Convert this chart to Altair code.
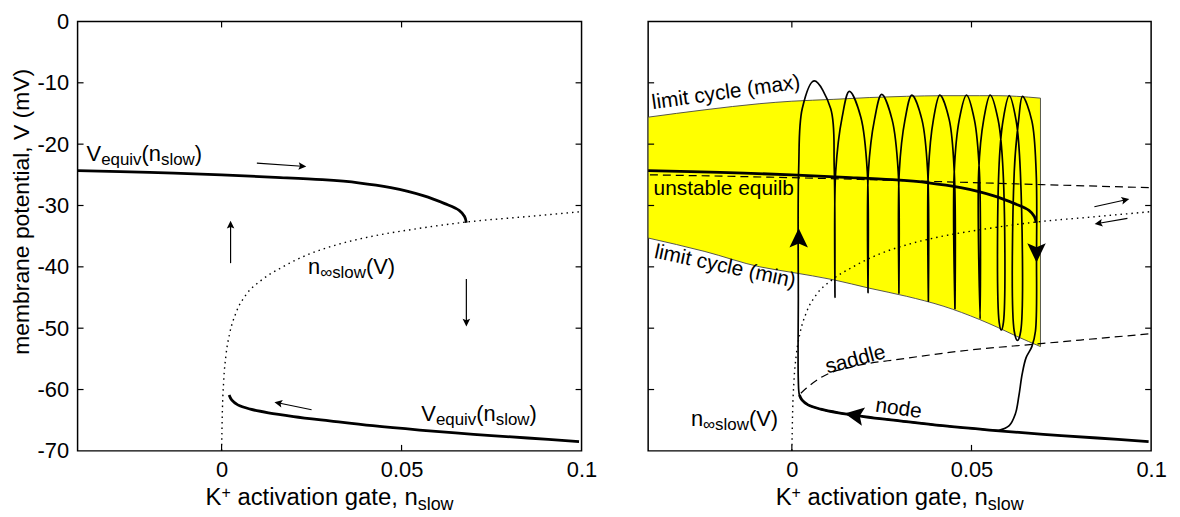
import math
import altair as alt
import pandas as pd

FONT = "Liberation Sans"
WL, WR, H = 507, 506, 432
XDOM = [-0.04, 0.1]
YDOM = [-70, 0]

# ---------------- data ----------------
X_TICKS = [0, 0.05, 0.1]
Y_TICKS = [0, -10, -20, -30, -40, -50, -60, -70]

# upper equilibrium branch V_equiv(n_slow)
up_x = [-0.040, -0.020, 0.000, 0.015, 0.028, 0.038, 0.047, 0.056, 0.062, 0.066, 0.0675, 0.0680]
up_v = [-24.3, -24.6, -25.0, -25.4, -25.8, -26.3, -27.1, -28.4, -29.7, -30.8, -31.8, -32.8]

# lower (node) equilibrium branch
lo_x = [0.0021, 0.0028, 0.0045, 0.0080, 0.0130, 0.0200, 0.0300, 0.0420, 0.0550, 0.0700, 0.0850, 0.0993]
lo_v = [-60.9, -61.7, -62.5, -63.2, -63.8, -64.4, -65.1, -65.9, -66.6, -67.3, -67.9, -68.5]

# n_inf_slow(V) nullcline (dotted)
ninf_x = [0.0, 0.0002, 0.0006, 0.0012, 0.0022, 0.0040, 0.0070, 0.0110, 0.0170, 0.0240,
          0.0320, 0.0420, 0.0530, 0.0680, 0.0850, 0.1000]
ninf_v = [-70.0, -64.0, -58.5, -54.5, -51.0, -47.5, -44.4, -42.2, -40.0, -38.0,
          -36.4, -35.0, -33.9, -32.7, -31.8, -31.0]

# limit cycle envelope (yellow band)
lc_x = [-0.040, -0.0242, -0.0089, 0.0, 0.0115, 0.0217, 0.0319, 0.0421, 0.0523, 0.0574, 0.0625, 0.0692]
lc_max = [-15.6, -14.4, -13.4, -13.0, -12.7, -12.4, -12.2, -12.1, -12.1, -12.1, -12.2, -12.5]
lc_min = [-35.3, -37.5, -40.0, -40.9, -42.1, -43.5, -44.8, -46.4, -48.6, -49.9, -51.3, -53.0]

# unstable equilibrium (dashed)
ue_x = [-0.0395, 0.0027, 0.0284, 0.0697, 0.1000]
ue_v = [-25.0, -25.5, -25.9, -26.6, -27.1]

# saddle (dashed)
sa_x = [0.0025, 0.0040, 0.0085, 0.0168, 0.0307, 0.0490, 0.0677, 0.1000]
sa_v = [-60.6, -59.8, -57.9, -56.3, -55.0, -53.6, -52.6, -50.9]

# bursting trajectory (right panel)
tr_x = [0.0575, 0.0550, 0.0420, 0.0300, 0.0200, 0.0130, 0.0080, 0.0045, 0.0028, 0.0021, 0.0018,
        0.0018, 0.0019,
        0.0029, 0.0062, 0.0108, 0.0118, 0.0120,
        0.0122, 0.0140, 0.0160, 0.0192, 0.0210, 0.0212,
        0.0213, 0.0230, 0.0250, 0.0279, 0.0296, 0.0298,
        0.0299, 0.0315, 0.0334, 0.0362, 0.0378, 0.0380,
        0.0380, 0.0394, 0.0412, 0.0438, 0.0452, 0.0454,
        0.0452, 0.0466, 0.0486, 0.0508, 0.0522, 0.0524,
        0.0520, 0.0534, 0.0552, 0.0574, 0.0588, 0.0589, 0.0583, 0.0577,
        0.0576, 0.0588, 0.0605, 0.0624, 0.0636, 0.0637, 0.0628, 0.0619,
        0.0619, 0.0631, 0.0642, 0.0668, 0.0680, 0.0681, 0.0678, 0.0668, 0.0652, 0.0641, 0.0632,
        0.0622, 0.0605, 0.0575]
tr_v = [-66.7, -66.6, -65.9, -65.1, -64.4, -63.8, -63.2, -62.5, -61.7, -60.9, -58.5,
        -45.0, -24.0,
        -14.2, -9.7, -14.2, -24.0, -45.0,
        -24.5, -15.6, -11.4, -15.6, -24.5, -44.2,
        -24.5, -16.0, -11.9, -16.0, -24.5, -44.3,
        -24.5, -16.0, -12.0, -16.0, -24.5, -45.6,
        -24.5, -16.0, -12.0, -16.0, -24.5, -46.9,
        -24.5, -16.0, -12.0, -16.0, -24.5, -48.5,
        -24.5, -16.0, -12.0, -16.0, -24.5, -49.0, -50.3, -49.0,
        -24.5, -16.1, -12.1, -16.1, -24.5, -50.5, -52.0, -50.5,
        -24.5, -16.2, -12.2, -16.2, -24.5, -38.0, -50.5, -53.0, -54.8, -57.5, -61.0,
        -64.0, -65.9, -66.7]

# small arrows: start -> end
arrL_x1 = [0.0098, 0.0025, 0.0680, 0.0250]
arrL_v1 = [-23.1, -39.4, -42.0, -63.3]
arrL_x2 = [0.0223, 0.0025, 0.0680, 0.0159]
arrL_v2 = [-23.6, -33.2, -49.0, -62.2]
arrR_x1 = [0.0842, 0.0934]
arrR_v1 = [-30.2, -32.1]
arrR_x2 = [0.0927, 0.0855]
arrR_v2 = [-29.1, -32.9]

# big arrowheads on the trajectory (position, heading in degrees, 0 = up)
head_x = [0.0019, 0.0681, 0.0177]
head_v = [-35.5, -37.5, -64.2]
head_dir = [0, 180, 280]

# label anchors
lbl_veq_up = (-0.0375, -22.7)
lbl_veq_lo = (0.0555, -65.2)
lbl_ninf_L = (0.0240, -41.2)
lbl_ninf_R = (-0.0281, -66.0)
plain_lbl_t = ["limit cycle (max)", "unstable equilb", "limit cycle (min)", "saddle", "node"]
plain_lbl_x = [-0.0387, -0.0385, -0.0385, 0.0099, 0.0231]
plain_lbl_v = [-14.3, -28.3, -38.5, -57.4, -63.6]
plain_lbl_a = [352, 0, 12, 345, 8]

# ---------------- helpers ----------------
ARIAL = {' ': 278, '(': 333, ')': 333, ',': 278, '+': 584, '-': 333, '.': 278,
         'K': 667, 'V': 667, 'a': 556, 'b': 556, 'c': 500, 'd': 556, 'e': 556, 'g': 556,
         'i': 222, 'l': 222, 'm': 833, 'n': 556, 'o': 556, 'p': 556, 'q': 556, 'r': 333,
         's': 500, 't': 278, 'u': 556, 'v': 500, 'w': 722, 'x': 500, 'y': 500, '\u221e': 713}


def tw(s, size):
    return sum(ARIAL.get(c, 556) for c in s) * size / 1000.0


XS = alt.Scale(domain=XDOM, nice=False, zero=False)
YS = alt.Scale(domain=YDOM, nice=False, zero=False)

x_axis = alt.Axis(values=X_TICKS, labelExpr="'' + datum.value", ticks=False, tickSize=0, domain=False,
                  grid=False, labelFont=FONT, labelFontSize=22, labelColor="black", labelPadding=9,
                  labelFlush=False, labelOverlap=False, title=None)
y_axis_L = alt.Axis(values=Y_TICKS, labelExpr="'' + datum.value", ticks=False, tickSize=0, domain=False,
                    grid=False, labelFont=FONT, labelFontSize=22, labelColor="black", labelPadding=9,
                    labelFlush=False, labelOverlap=False,
                    title="membrane potential, V (mV)", titleFont=FONT, titleFontSize=23,
                    titleFontWeight="normal", titleColor="black", titleAngle=270,
                    titleX=-56, titleY=191, titleBaseline="middle", titleAlign="center")


def X(field, axis):
    return alt.X(field, type="quantitative", scale=XS, axis=axis)


def Y(field, axis):
    return alt.Y(field, type="quantitative", scale=YS, axis=axis)


def curve(xv, vv, width, yax, dash=None, interp="monotone", color="black"):
    df = pd.DataFrame({"x": xv, "v": vv, "i": range(len(xv))})
    kw = dict(color=color, strokeWidth=width, interpolate=interp)
    if dash:
        kw["strokeDash"] = dash
    return alt.Chart(df).mark_line(**kw).encode(x=X("x", x_axis), y=Y("v", yax), order="i:Q")


def text_parts(parts, mk, start=0.0):
    """Lay out text pieces left to right; leading spaces become offsets."""
    layers = []
    off = start
    for text, size, dy in parts:
        stripped = text.lstrip(" ")
        off += tw(text[:len(text) - len(stripped)], size)
        layers.append(mk(stripped, size, dy, off))
        off += tw(stripped, size)
    return layers


def rich(parts, x, v, yax):
    df = pd.DataFrame({"x": [x], "v": [v]})

    def mk(text, size, dy, off):
        return (alt.Chart(df.assign(t=text))
                .mark_text(align="left", baseline="alphabetic", font=FONT, fontSize=size,
                           color="black", dx=off, dy=dy)
                .encode(x=X("x", x_axis), y=Y("v", yax), text="t:N"))
    return text_parts(parts, mk)


def xtitle(width):
    parts = [("K", 24, 0), ("+", 16, -7), (" activation gate, n", 24, 0), ("slow", 18, 5)]
    total = sum(tw(t, s) for t, s, _ in parts)

    def mk(text, size, dy, off):
        return (alt.Chart(pd.DataFrame({"t": [text]}))
                .mark_text(align="left", baseline="alphabetic", font=FONT, fontSize=size,
                           color="black", dy=dy)
                .encode(x=alt.value(off), y=alt.value(H + 54), text="t:N"))
    return text_parts(parts, mk, start=width / 2 - total / 2)


def frame_ticks(width, yax):
    yt = pd.DataFrame({"v": Y_TICKS[1:-1]})
    xt = pd.DataFrame({"x": X_TICKS[:-1]})
    r = dict(color="black", strokeWidth=1.2)
    return [
        alt.Chart(yt).mark_rule(**r).encode(y=Y("v", yax), x=alt.value(0), x2=alt.value(6)),
        alt.Chart(yt).mark_rule(**r).encode(y=Y("v", yax), x=alt.value(width - 6), x2=alt.value(width)),
        alt.Chart(xt).mark_rule(**r).encode(x=X("x", x_axis), y=alt.value(H - 6), y2=alt.value(H)),
        alt.Chart(xt).mark_rule(**r).encode(x=X("x", x_axis), y=alt.value(0), y2=alt.value(6)),
    ]


HEAD = "M0,-1L0.85,0.75L0,0.4L-0.85,0.75Z"


def small_arrows(x1, v1, x2, v2, width, yax):
    px = width / (XDOM[1] - XDOM[0])
    py = H / (YDOM[1] - YDOM[0])
    ang = [(math.degrees(math.atan2(-(b2 - b1) * py, (a2 - a1) * px)) + 90) % 360
           for a1, b1, a2, b2 in zip(x1, v1, x2, v2)]
    df = pd.DataFrame({"x1": x1, "v1": v1, "x2": x2, "v2": v2, "ang": ang})
    line = alt.Chart(df).mark_rule(color="black", strokeWidth=1.2).encode(
        x=X("x1", x_axis), y=Y("v1", yax), x2="x2", y2="v2")
    head = alt.Chart(df).mark_point(shape=HEAD, filled=True, color="black", opacity=1, size=80).encode(
        x=X("x2", x_axis), y=Y("v2", yax), angle=alt.Angle("ang:Q", scale=None))
    return [line, head]


# ---------------- left panel ----------------
sub = 17
VEQ = [("V", 22, 0), ("equiv", sub, 4), ("(", 22, 0), ("n", 22, 0), ("slow", sub, 4), (")", 22, 0)]
NINF = [("n", 22, 0), ("\u221eslow", sub, 4), ("(V)", 22, 0)]

L = []
L.append(curve(ninf_x, ninf_v, 1.4, y_axis_L, dash=[1.5, 4]))
L.append(curve(up_x, up_v, 2.8, y_axis_L, interp="catmull-rom"))
L.append(curve(lo_x, lo_v, 2.8, y_axis_L, interp="catmull-rom"))
L += small_arrows(arrL_x1, arrL_v1, arrL_x2, arrL_v2, WL, y_axis_L)
L += rich(VEQ, lbl_veq_up[0], lbl_veq_up[1], y_axis_L)
L += rich(VEQ, lbl_veq_lo[0], lbl_veq_lo[1], y_axis_L)
L += rich(NINF, lbl_ninf_L[0], lbl_ninf_L[1], y_axis_L)
L += frame_ticks(WL, y_axis_L)
L += xtitle(WL)
left = alt.layer(*L).properties(width=WL, height=H)

# ---------------- right panel ----------------
R = []
band = pd.DataFrame({"x": lc_x, "hi": lc_max, "lo": lc_min})
R.append(alt.Chart(band).mark_area(color="#ffff00", fillOpacity=1, stroke="#444444", strokeWidth=0.9,
                                   interpolate="monotone")
         .encode(x=X("x", x_axis), y=Y("hi", None), y2="lo"))
R.append(curve(ninf_x, ninf_v, 1.4, None, dash=[1.5, 4]))
R.append(curve(ue_x, ue_v, 1.2, None, dash=[8, 5]))
R.append(curve(sa_x, sa_v, 1.2, None, dash=[8, 5]))
R.append(curve(up_x, up_v, 2.8, None, interp="catmull-rom"))
R.append(curve(lo_x, lo_v, 2.8, None, interp="catmull-rom"))
R.append(curve(tr_x, tr_v, 1.7, None, interp="catmull-rom"))
R += small_arrows(arrR_x1, arrR_v1, arrR_x2, arrR_v2, WR, None)
hd = pd.DataFrame({"x": head_x, "v": head_v, "ang": head_dir})
R.append(alt.Chart(hd).mark_point(shape=HEAD, filled=True, color="black", opacity=1, size=480)
         .encode(x=X("x", x_axis), y=Y("v", None), angle=alt.Angle("ang:Q", scale=None)))
pl = pd.DataFrame({"x": plain_lbl_x, "v": plain_lbl_v, "t": plain_lbl_t})
for i in range(len(plain_lbl_t)):
    R.append(alt.Chart(pl.iloc[[i]]).mark_text(align="left", baseline="alphabetic", font=FONT,
                                               fontSize=21, color="black", angle=plain_lbl_a[i])
             .encode(x=X("x", x_axis), y=Y("v", None), text="t:N"))
R += rich(NINF, lbl_ninf_R[0], lbl_ninf_R[1], None)
R += frame_ticks(WR, None)
R += xtitle(WR)
right = alt.layer(*R).properties(width=WR, height=H)

chart = (alt.hconcat(left, right, spacing=67, bounds="flush")
         .properties(padding={"left": 2, "top": 0, "right": 4, "bottom": 4})
         .configure_view(stroke="black", strokeWidth=1.5))

chart.save("out.html", embed_options={"renderer": "svg", "actions": False})
